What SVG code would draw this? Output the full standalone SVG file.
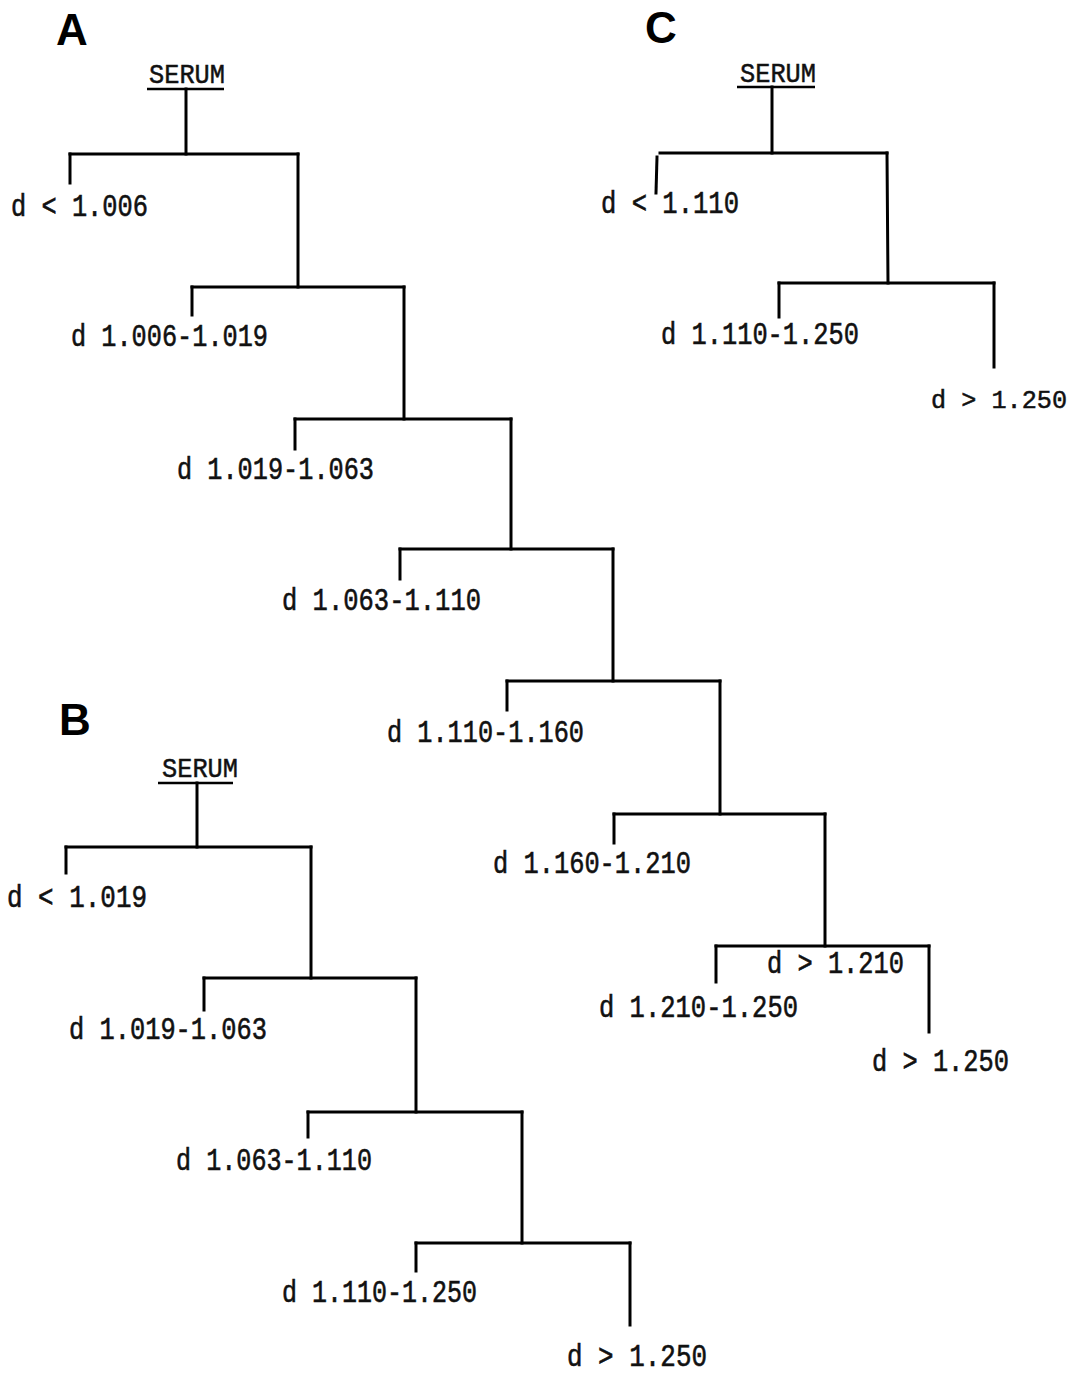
<svg xmlns="http://www.w3.org/2000/svg" width="1077" height="1374" viewBox="0 0 1077 1374">
<style>
.lbl{font-family:"Liberation Mono","DejaVu Sans Mono",monospace;font-size:32px;fill:#111;stroke:#111;stroke-width:0.6px}
.sm{font-size:26px;stroke-width:0.5px}
.ser{font-family:"Liberation Mono","DejaVu Sans Mono",monospace;font-size:28px;fill:#111;stroke:#111;stroke-width:0.5px}
.pl{font-family:"Liberation Sans",Arial,sans-serif;font-weight:bold;font-size:44px;fill:#000}
.c line{stroke:#000;stroke-width:3;stroke-linecap:square}
.ul{stroke:#000;stroke-width:2.5}
</style>
<rect width="1077" height="1374" fill="#fff"/>
<g id="panel-labels">
<text class="pl" x="56" y="45">A</text>
<text class="pl" x="645" y="43">C</text>
<text class="pl" x="59" y="735">B</text>
</g>
<!-- Tree A nodes -->
<g id="A-serum"><text class="ser" x="149" y="83" textLength="76" lengthAdjust="spacingAndGlyphs">SERUM</text><line class="ul" x1="147" y1="89" x2="224" y2="89"/></g>
<g id="A-n1"><text class="lbl" x="11" y="216" textLength="137" lengthAdjust="spacingAndGlyphs">d &lt; 1.006</text></g>
<g id="A-n2"><text class="lbl" x="71" y="346" textLength="197" lengthAdjust="spacingAndGlyphs">d 1.006-1.019</text></g>
<g id="A-n3"><text class="lbl" x="177" y="479" textLength="197" lengthAdjust="spacingAndGlyphs">d 1.019-1.063</text></g>
<g id="A-n4"><text class="lbl" x="282" y="610" textLength="199" lengthAdjust="spacingAndGlyphs">d 1.063-1.110</text></g>
<g id="A-n5"><text class="lbl" x="387" y="742" textLength="197" lengthAdjust="spacingAndGlyphs">d 1.110-1.160</text></g>
<g id="A-n6"><text class="lbl" x="493" y="873" textLength="198" lengthAdjust="spacingAndGlyphs">d 1.160-1.210</text></g>
<g id="A-n7"><text class="lbl" x="767" y="973" textLength="137" lengthAdjust="spacingAndGlyphs">d &gt; 1.210</text></g>
<g id="A-n8"><text class="lbl" x="599" y="1017" textLength="199" lengthAdjust="spacingAndGlyphs">d 1.210-1.250</text></g>
<g id="A-n9"><text class="lbl" x="872" y="1071" textLength="137" lengthAdjust="spacingAndGlyphs">d &gt; 1.250</text></g>
<!-- Tree C nodes -->
<g id="C-serum"><text class="ser" x="740" y="82" textLength="76" lengthAdjust="spacingAndGlyphs">SERUM</text><line class="ul" x1="737" y1="87" x2="815" y2="87"/></g>
<g id="C-n1"><text class="lbl" x="601" y="213" textLength="138" lengthAdjust="spacingAndGlyphs">d &lt; 1.110</text></g>
<g id="C-n2"><text class="lbl" x="661" y="344" textLength="198" lengthAdjust="spacingAndGlyphs">d 1.110-1.250</text></g>
<g id="C-n3"><text class="lbl sm" x="931" y="408" textLength="136" lengthAdjust="spacingAndGlyphs">d &gt; 1.250</text></g>
<!-- Tree B nodes -->
<g id="B-serum"><text class="ser" x="162" y="777" textLength="76" lengthAdjust="spacingAndGlyphs">SERUM</text><line class="ul" x1="158" y1="783" x2="233" y2="783"/></g>
<g id="B-n1"><text class="lbl" x="7" y="907" textLength="140" lengthAdjust="spacingAndGlyphs">d &lt; 1.019</text></g>
<g id="B-n2"><text class="lbl" x="69" y="1039" textLength="198" lengthAdjust="spacingAndGlyphs">d 1.019-1.063</text></g>
<g id="B-n3"><text class="lbl" x="176" y="1170" textLength="196" lengthAdjust="spacingAndGlyphs">d 1.063-1.110</text></g>
<g id="B-n4"><text class="lbl" x="282" y="1302" textLength="195" lengthAdjust="spacingAndGlyphs">d 1.110-1.250</text></g>
<g id="B-n5"><text class="lbl" x="567" y="1366" textLength="140" lengthAdjust="spacingAndGlyphs">d &gt; 1.250</text></g>
<g id="connectors" class="c">
<!-- A -->
<line x1="186" y1="89" x2="186" y2="154"/>
<line x1="70" y1="154" x2="298" y2="154"/>
<line x1="70" y1="154" x2="70" y2="183"/>
<line x1="298" y1="154" x2="298" y2="287"/>
<line x1="192" y1="287" x2="404" y2="287"/>
<line x1="192" y1="287" x2="192" y2="315"/>
<line x1="404" y1="287" x2="404" y2="419"/>
<line x1="295" y1="419" x2="511" y2="419"/>
<line x1="295" y1="419" x2="295" y2="449"/>
<line x1="511" y1="419" x2="511" y2="549"/>
<line x1="400" y1="549" x2="613" y2="549"/>
<line x1="400" y1="549" x2="400" y2="579"/>
<line x1="613" y1="549" x2="613" y2="681"/>
<line x1="507" y1="681" x2="720" y2="681"/>
<line x1="507" y1="681" x2="507" y2="710"/>
<line x1="720" y1="681" x2="720" y2="814"/>
<line x1="614" y1="814" x2="825" y2="814"/>
<line x1="614" y1="814" x2="614" y2="843"/>
<line x1="825" y1="814" x2="825" y2="946"/>
<line x1="716" y1="946" x2="929" y2="946"/>
<line x1="716" y1="946" x2="716" y2="982"/>
<line x1="929" y1="946" x2="929" y2="1032"/>
<!-- C -->
<line x1="772" y1="87" x2="772" y2="153"/>
<line x1="660" y1="153" x2="887" y2="153"/>
<line x1="657" y1="157" x2="656" y2="193"/>
<line x1="887" y1="153" x2="888" y2="283"/>
<line x1="779" y1="283" x2="994" y2="283"/>
<line x1="779" y1="283" x2="779" y2="317"/>
<line x1="994" y1="283" x2="994" y2="367"/>
<!-- B -->
<line x1="197" y1="783" x2="197" y2="847"/>
<line x1="66" y1="847" x2="311" y2="847"/>
<line x1="66" y1="847" x2="66" y2="873"/>
<line x1="311" y1="847" x2="311" y2="978"/>
<line x1="204" y1="978" x2="416" y2="978"/>
<line x1="204" y1="978" x2="204" y2="1010"/>
<line x1="416" y1="978" x2="416" y2="1112"/>
<line x1="308" y1="1112" x2="522" y2="1112"/>
<line x1="308" y1="1112" x2="308" y2="1137"/>
<line x1="522" y1="1112" x2="522" y2="1243"/>
<line x1="416" y1="1243" x2="630" y2="1243"/>
<line x1="416" y1="1243" x2="416" y2="1271"/>
<line x1="630" y1="1243" x2="630" y2="1325"/>
</g>
</svg>
